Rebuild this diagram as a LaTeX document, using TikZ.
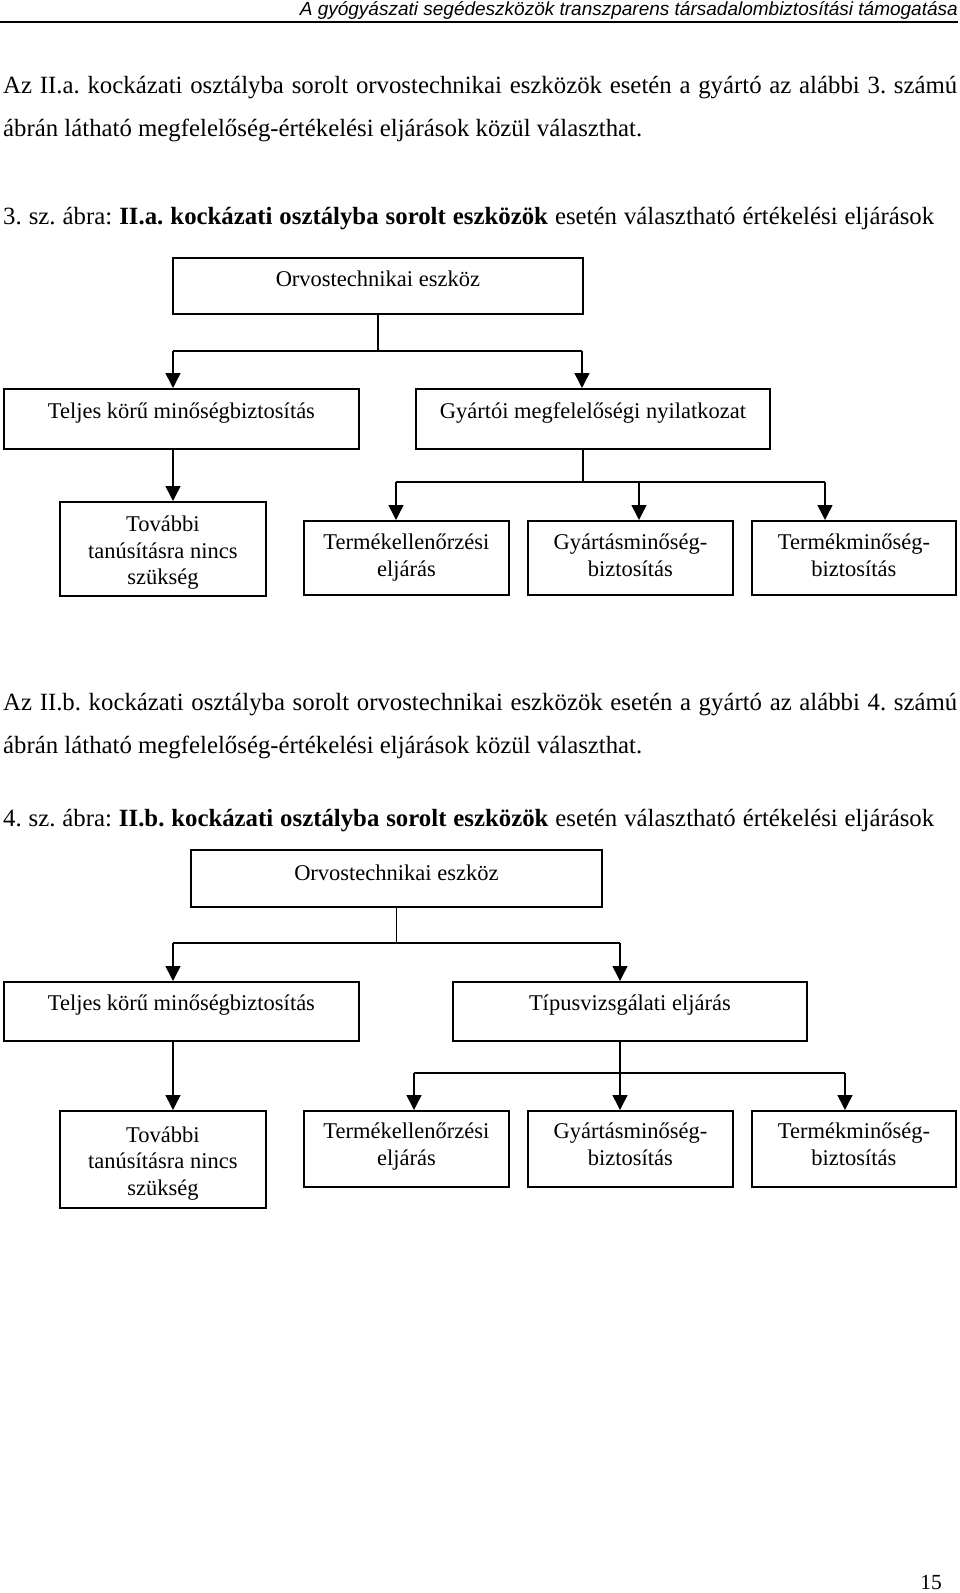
\documentclass[tikz,border=0pt]{standalone}
\usepackage{fontspec}
\setmainfont{Liberation Serif}
\newfontfamily\hdrfont{Liberation Sans}
\usetikzlibrary{arrows.meta}
\newcommand\bx[4]{\parbox[c][#2pt][t]{#1pt}{\centering\vspace*{#3pt}#4}}
\frenchspacing
\begin{document}
\begin{tikzpicture}[x=1pt,y=-1pt,
  box/.style={draw, line width=1.8pt, inner sep=0pt, anchor=north west, font=\fontsize{22.5}{26.5}\selectfont},
  conn/.style={line width=1.5pt},
  arr/.style={conn, -{Triangle[width=15pt,length=15pt]}},
  body/.style={inner sep=0pt, anchor=base west, font=\fontsize{24.8}{28}\selectfont},
]
\fill[white] (0,0) rectangle (960,1593);
\useasboundingbox (0,0) rectangle (960,1593);

% header
\node[inner sep=0pt, anchor=base east, font=\hdrfont\itshape\fontsize{19}{22}\selectfont] (hdr) at (958,15) {A gyógyászati segédeszközök transzparens társadalombiztosítási támogatása};
\draw[line width=1.5pt] (0,22) -- (958,22);

% paragraph 1
\node[body] (p1a) at (3,93) {\makebox[954pt][s]{Az II.a. kockázati osztályba sorolt orvostechnikai eszközök esetén a gyártó az alábbi 3. számú}};
\node[body] (p1b) at (3,136) {ábrán látható megfelelőség-értékelési eljárások közül választhat.};
\node[body] (cap1) at (3,224) {\makebox[931pt][s]{3. sz. ábra: \textbf{II.a. kockázati osztályba sorolt eszközök} esetén választható értékelési eljárások}};

% diagram 1
\node[box] (a1) at (172,257) {\bx{410}{56}{10.45}{\strut Orvostechnikai eszköz}};
\node[box] (b1) at (3,388) {\bx{355}{60}{11.45}{\strut Teljes körű minőségbiztosítás}};
\node[box] (b2) at (415,388) {\bx{354}{60}{11.45}{\strut Gyártói megfelelőségi nyilatkozat}};
\node[box] (c1) at (59,501) {\bx{206}{94}{11.45}{\strut További\\\strut tanúsításra nincs\\\strut szükség}};
\node[box] (c2) at (303,520) {\bx{205}{74}{10.45}{\strut Termékellenőrzési\\\strut eljárás}};
\node[box] (c3) at (527,520) {\bx{205}{74}{10.45}{\strut Gyártásminőség-\\\strut biztosítás}};
\node[box] (c4) at (751,520) {\bx{204}{74}{10.45}{\strut Termékminőség-\\\strut biztosítás}};

\coordinate (l1) at (173,351);
\coordinate (r1) at (582,351);
\draw[conn] (a1.south) -- (a1.south |- l1);
\draw[conn] (l1) -- (r1);
\draw[arr] (l1) -- (l1 |- b1.north);
\draw[arr] (r1) -- (r1 |- b2.north);
\draw[arr] (b1.south -| l1) -- (c1.north -| l1);
\coordinate (l2) at (396,482);
\coordinate (m2) at (639,482);
\coordinate (r2) at (825,482);
\coordinate (j2) at (583,482);
\draw[conn] (b2.south -| j2) -- (j2);
\draw[conn] (l2) -- (r2);
\draw[arr] (l2) -- (l2 |- c2.north);
\draw[arr] (m2) -- (m2 |- c3.north);
\draw[arr] (r2) -- (r2 |- c4.north);

% paragraph 2
\node[body] (p2a) at (3,710) {\makebox[954pt][s]{Az II.b. kockázati osztályba sorolt orvostechnikai eszközök esetén a gyártó az alábbi 4. számú}};
\node[body] (p2b) at (3,753) {ábrán látható megfelelőség-értékelési eljárások közül választhat.};
\node[body] (cap2) at (3,826) {\makebox[931pt][s]{4. sz. ábra: \textbf{II.b. kockázati osztályba sorolt eszközök} esetén választható értékelési eljárások}};

% diagram 2
\node[box] (a2) at (190,849) {\bx{411}{57}{12.45}{\strut Orvostechnikai eszköz}};
\node[box] (d1) at (3,981) {\bx{355}{59}{10.45}{\strut Teljes körű minőségbiztosítás}};
\node[box] (d2) at (452,981) {\bx{354}{59}{10.45}{\strut Típusvizsgálati eljárás}};
\node[box] (e1) at (59,1110) {\bx{206}{97}{13}{\strut További\\\strut tanúsításra nincs\\\strut szükség}};
\node[box] (e2) at (303,1110) {\bx{205}{76}{9.45}{\strut Termékellenőrzési\\\strut eljárás}};
\node[box] (e3) at (527,1110) {\bx{205}{76}{9.45}{\strut Gyártásminőség-\\\strut biztosítás}};
\node[box] (e4) at (751,1110) {\bx{204}{76}{9.45}{\strut Termékminőség-\\\strut biztosítás}};

\coordinate (l3) at (173,943);
\coordinate (r3) at (620,943);
\draw[conn] (a2.south) -- (a2.south |- l3);
\draw[conn] (l3) -- (r3);
\draw[arr] (l3) -- (l3 |- d1.north);
\draw[arr] (r3) -- (r3 |- d2.north);
\draw[arr] (d1.south -| l3) -- (e1.north -| l3);
\coordinate (l4) at (414,1073);
\coordinate (m4) at (620,1073);
\coordinate (r4) at (845,1073);
\draw[conn] (d2.south -| m4) -- (m4);
\draw[conn] (l4) -- (r4);
\draw[arr] (l4) -- (l4 |- e2.north);
\draw[arr] (m4) -- (m4 |- e3.north);
\draw[arr] (r4) -- (r4 |- e4.north);

% page number
\node[body, anchor=base east, font=\fontsize{21.5}{24}\selectfont] (pg) at (942,1589) {15};
\end{tikzpicture}
\end{document}
